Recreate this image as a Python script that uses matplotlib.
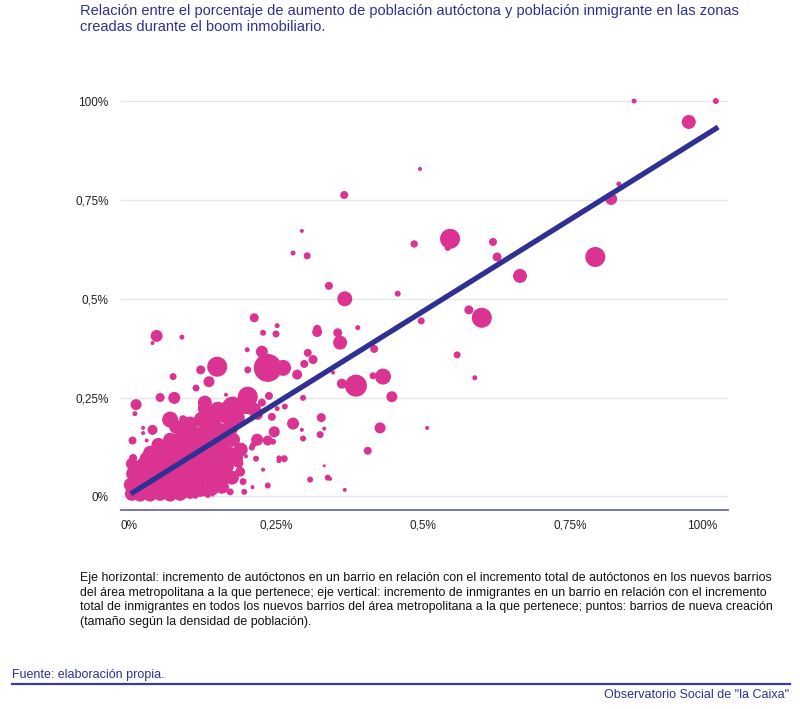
import matplotlib
matplotlib.use("Agg")
import matplotlib.pyplot as plt
from matplotlib.lines import Line2D

plt.rcParams['font.family'] = ['Liberation Sans', 'DejaVu Sans']

# --- Data: barrios dispersos (x = autóctonos, y = inmigrantes, densidad ~ tamaño) ---
x_disperso = [0.859, 0.998, 0.952, 0.833, 0.820, 0.495, 0.366, 0.294, 0.303, 0.279,
              0.546, 0.542, 0.485, 0.619, 0.626, 0.793, 0.665, 0.340, 0.367, 0.457,
              0.578, 0.600, 0.497, 0.389, 0.320, 0.355, 0.359, 0.417, 0.558, 0.588,
              0.362, 0.386, 0.415, 0.432, 0.447, 0.427, 0.507, 0.406, 0.342, 0.367,
              0.347, 0.213, 0.252, 0.228, 0.250, 0.320, 0.201, 0.226, 0.150, 0.236,
              0.262, 0.202, 0.122, 0.304, 0.313, 0.298, 0.286, 0.136, 0.165, 0.202,
              0.238, 0.296, 0.129, 0.172, 0.252, 0.265, 0.243, 0.279, 0.327, 0.294,
              0.332, 0.325, 0.296, 0.247, 0.218, 0.236, 0.245, 0.192, 0.209, 0.216,
              0.255, 0.264, 0.255, 0.189, 0.228, 0.332, 0.338, 0.308, 0.236, 0.196,
              0.172, 0.134, 0.143, 0.047, 0.040, 0.090, 0.012, 0.010, 0.053, 0.077,
              0.075, 0.114, 0.070, 0.092, 0.006, 0.024, 0.024, 0.030, 0.033, 0.040,
              0.105, 0.132, 0.155, 0.177, 0.200, 0.211, 0.199, 0.186, 0.194, 0.113,
              0.007, 0.006, 0.210, 0.005, 0.219, 0.226]
y_disperso = [1.001, 1.001, 0.948, 0.791, 0.753, 0.829, 0.763, 0.672, 0.609, 0.616,
              0.652, 0.629, 0.639, 0.644, 0.606, 0.606, 0.558, 0.533, 0.500, 0.513,
              0.472, 0.452, 0.444, 0.427, 0.424, 0.414, 0.389, 0.373, 0.358, 0.300,
              0.285, 0.280, 0.305, 0.303, 0.252, 0.173, 0.173, 0.115, 0.044, 0.016,
              0.313, 0.452, 0.432, 0.414, 0.411, 0.416, 0.371, 0.366, 0.328, 0.325,
              0.325, 0.320, 0.320, 0.363, 0.346, 0.335, 0.308, 0.290, 0.257, 0.252,
              0.254, 0.249, 0.237, 0.224, 0.222, 0.227, 0.201, 0.184, 0.199, 0.168,
              0.171, 0.156, 0.146, 0.163, 0.143, 0.141, 0.138, 0.125, 0.123, 0.095,
              0.097, 0.095, 0.090, 0.062, 0.067, 0.077, 0.047, 0.042, 0.027, 0.011,
              0.011, 0.006, 0.001, 0.406, 0.388, 0.403, 0.232, 0.209, 0.250, 0.249,
              0.303, 0.274, 0.194, 0.195, 0.141, 0.173, 0.160, 0.141, 0.113, 0.168,
              0.173, 0.198, 0.211, 0.232, 0.223, 0.130, 0.101, 0.084, 0.037, 0.001,
              0.097, 0.042, 0.023, 0.012, 0.206, 0.237]
d_disperso = [2.5, 3, 7, 2.5, 6, 2, 4, 2, 3.5, 2.5,
              10, 3, 3.7, 4, 4.5, 10, 7, 4, 7.5, 3,
              4.5, 10, 3.5, 2.5, 4, 4.5, 7, 4, 3.5, 2.5,
              5, 11, 3.5, 8, 5.5, 5.5, 2, 4, 2, 2,
              2, 4.5, 2.5, 3, 3.5, 5, 2.5, 6, 10, 14,
              8, 3.5, 4.5, 4, 4.5, 4, 5, 5.5, 2, 10,
              4, 3, 7, 9, 2.5, 3, 4, 6, 4.5, 2,
              2, 3.5, 3, 5.5, 6, 5, 3, 3.5, 3, 3,
              2.5, 3.5, 2.5, 5, 2, 1.5, 3, 3, 3, 3,
              3.5, 4, 1, 6, 2, 2.5, 5.5, 2.5, 4.5, 6,
              3.5, 3.5, 8, 4, 4, 2, 2, 2, 3, 5,
              4.5, 6, 8, 8, 6, 3, 2, 5, 3.5, 3,
              4, 4, 2, 4, 5, 4]

# --- Data: núcleo denso de barrios cerca del origen ---
x_nucleo = [0.005, 0.019, 0.036, 0.053, 0.070, 0.087, 0.104, 0.121, 0.141, 0.158,
            0.003, 0.020, 0.039, 0.058, 0.077, 0.097, 0.117, 0.138, 0.158, 0.175,
            0.007, 0.024, 0.044, 0.063, 0.083, 0.104, 0.124, 0.145, 0.165,
            0.005, 0.024, 0.044, 0.065, 0.087, 0.107, 0.128, 0.148, 0.168, 0.182,
            0.036, 0.056, 0.077, 0.097, 0.117, 0.138, 0.158, 0.177,
            0.070, 0.090, 0.111, 0.131, 0.151, 0.172,
            0.080, 0.104, 0.124, 0.145, 0.165, 0.185,
            0.129, 0.151, 0.175, 0.196, 0.213,
            0.014, 0.030, 0.050, 0.095, 0.140, 0.190, 0.160, 0.110]
y_nucleo = [0.006, 0.004, 0.004, 0.006, 0.004, 0.006, 0.011, 0.016, 0.019, 0.024,
            0.029, 0.029, 0.027, 0.029, 0.032, 0.034, 0.039, 0.044, 0.049, 0.047,
            0.057, 0.054, 0.057, 0.059, 0.062, 0.067, 0.070, 0.075, 0.077,
            0.082, 0.080, 0.085, 0.090, 0.092, 0.097, 0.103, 0.105, 0.108, 0.097,
            0.110, 0.115, 0.120, 0.125, 0.130, 0.135, 0.138, 0.143,
            0.143, 0.151, 0.158, 0.163, 0.168, 0.173,
            0.176, 0.184, 0.194, 0.199, 0.204, 0.199,
            0.222, 0.219, 0.229, 0.229, 0.219,
            0.068, 0.095, 0.130, 0.170, 0.185, 0.118, 0.095, 0.060]
d_nucleo = [7, 7, 7, 7, 7, 7, 7, 7, 7, 7,
            7, 8, 8, 8, 8, 8, 8, 8, 8, 7,
            7, 8, 8, 8, 8, 8, 8, 8, 8,
            6, 7, 8, 8, 8, 8, 8, 8, 8, 7,
            7, 8, 8, 8, 8, 8, 8, 7,
            7, 8, 8, 8, 8, 8,
            7, 7, 8, 8, 8, 7,
            7, 8, 9, 8, 7,
            7, 7, 7, 7, 7, 7, 8, 8]

# Recta de tendencia
tendencia_x = [0.003, 1.002]
tendencia_y = [0.006, 0.935]

tick_vals = [0, 0.25, 0.5, 0.75, 1.0]
tick_labels = ['0%', '0,25%', '0,5%', '0,75%', '100%']

MAGENTA = '#DB3391'
AZUL = '#2E3192'

fig = plt.figure(figsize=(8, 7.09), dpi=100)
ax = fig.add_axes([121/800, (709-510)/709, (728-121)/800, (510-90)/709])

def sz(d):
    return [2.07 * v * v for v in d]

ax.scatter(x_nucleo, y_nucleo, s=sz(d_nucleo), color=MAGENTA, edgecolors='none', zorder=2)
ax.scatter(x_disperso, y_disperso, s=sz(d_disperso), color=MAGENTA, edgecolors='none', zorder=2)
ax.plot(tendencia_x, tendencia_y, color=AZUL, lw=3.8, solid_capstyle='butt', zorder=3)

ax.set_xlim(-0.0136, 1.0187)
ax.set_ylim(-0.035, 1.029)

for s in ['top', 'right', 'left']:
    ax.spines[s].set_visible(False)
ax.spines['bottom'].set_color('#6a6ab4')
ax.spines['bottom'].set_linewidth(1.3)

ax.set_yticks(tick_vals)
ax.set_yticklabels(tick_labels)
ax.set_xticks(tick_vals)
ax.set_xticklabels(tick_labels)
ax.tick_params(axis='both', length=0, labelsize=8.5, colors='#222222')
ax.tick_params(axis='y', pad=9)
ax.tick_params(axis='x', pad=7)
ax.get_xticklabels()[-1].set_horizontalalignment('right')
ax.yaxis.grid(True, color='#e6e6e6', lw=1)
ax.xaxis.grid(False)
ax.set_axisbelow(True)

fig.text(80/800, 1 - 4/709,
         'Relación entre el porcentaje de aumento de población autóctona y población inmigrante en las zonas\n'
         'creadas durante el boom inmobiliario.',
         ha='left', va='top', fontsize=10.5, color=AZUL, linespacing=1.15)

fig.text(80/800, 1 - 572/709,
         'Eje horizontal: incremento de autóctonos en un barrio en relación con el incremento total de autóctonos en los nuevos barrios\n'
         'del área metropolitana a la que pertenece; eje vertical: incremento de inmigrantes en un barrio en relación con el incremento\n'
         'total de inmigrantes en todos los nuevos barrios del área metropolitana a la que pertenece; puntos: barrios de nueva creación\n'
         '(tamaño según la densidad de población).',
         ha='left', va='top', fontsize=8.9, color='#111111', linespacing=1.3)

fig.text(12/800, 1 - 675/709, 'Fuente: elaboración propia.', ha='left', va='center',
         fontsize=9, color=AZUL)
fig.add_artist(Line2D([12/800, 790/800], [1 - 684/709, 1 - 684/709], color='#3b3ba0', lw=1.6))
fig.text(789/800, 1 - 695/709, 'Observatorio Social de "la Caixa"', ha='right', va='center',
         fontsize=9, color=AZUL)

fig.savefig('out.png', dpi=100)
